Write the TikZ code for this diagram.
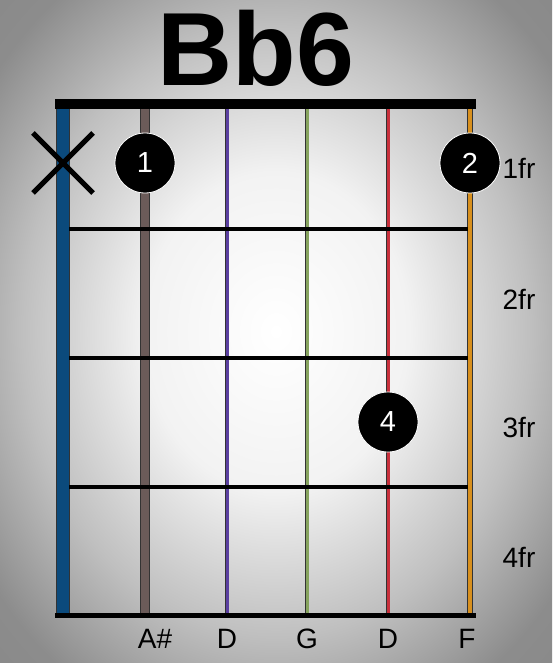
\documentclass[tikz,border=0pt]{standalone}
\usepackage{fontspec}
\setmainfont{Liberation Sans}
\usetikzlibrary{calc}
\definecolor{str-low}{HTML}{0B4A7C}
\definecolor{str-a}{HTML}{6B5B59}
\definecolor{str-d}{HTML}{5A3FA0}
\definecolor{str-g}{HTML}{86A35E}
\definecolor{str-b}{HTML}{C8303C}
\definecolor{str-hi}{HTML}{D8901E}
\pgfdeclareradialshading{backglow}{\pgfpoint{0bp}{0bp}}{color(0bp)=(white); color(12bp)=(black!5); color(23bp)=(black!25); color(32bp)=(black!45); color(50bp)=(black!50)}

\begin{document}
\begin{tikzpicture}[x=1pt,y=-1pt,
    finger/.style={circle, fill=black, draw=white, line width=0.8, minimum size=60, inner sep=0,
      text=white, font=\fontsize{29}{29}\selectfont},
    fretlabel/.style={font=\fontsize{28}{28}\selectfont},
    notelabel/.style={font=\fontsize{28}{28}\selectfont}]
    \useasboundingbox (0,0) rectangle (552,663);
    \shade[shading=backglow] (0,0) rectangle (552,663);
    % strings
    \foreach \x/\c/\w in {63/str-low/12, 145/str-a/8, 227/str-d/3, 307/str-g/3, 388/str-b/3, 470/str-hi/4} {
        \draw[black!80, line width=\w+1.5] (\x,108) -- (\x,613);
        \draw[\c, line width=\w] (\x,108) -- (\x,613);
    }
    % frets, nut and end
    \foreach \y in {229,358,487}
        \draw[line width=4] (69,\y) -- (468,\y);
    \draw[line width=10] (55,104) -- (476,104);
    \draw[line width=5] (55,615) -- (476,615);
    % muted string
    \draw[line width=5] (33,133) -- (93,193);
    \draw[line width=5] (33,193) -- (93,133);
    % fingers
    \node[finger] (dot1) at (145,163) {1};
    \node[finger] (dot2) at (470,163) {2};
    \node[finger] (dot4) at (388,422) {4};
    \node[font=\fontsize{104}{104}\selectfont\bfseries] (title) at (256,48) {Bb6};
    % fret numbers
    \foreach \f/\y in {1/168,2/299,3/428,4/557}
        \node[fretlabel] (fr\f) at (519,\y) {\f fr};
    % tuning
    \foreach \x/\n [count=\i] in {155/A\#, 227/D, 307/G, 388/D, 467/F}
        \node[notelabel] (note\i) at (\x,639) {\n};
\end{tikzpicture}
\end{document}
